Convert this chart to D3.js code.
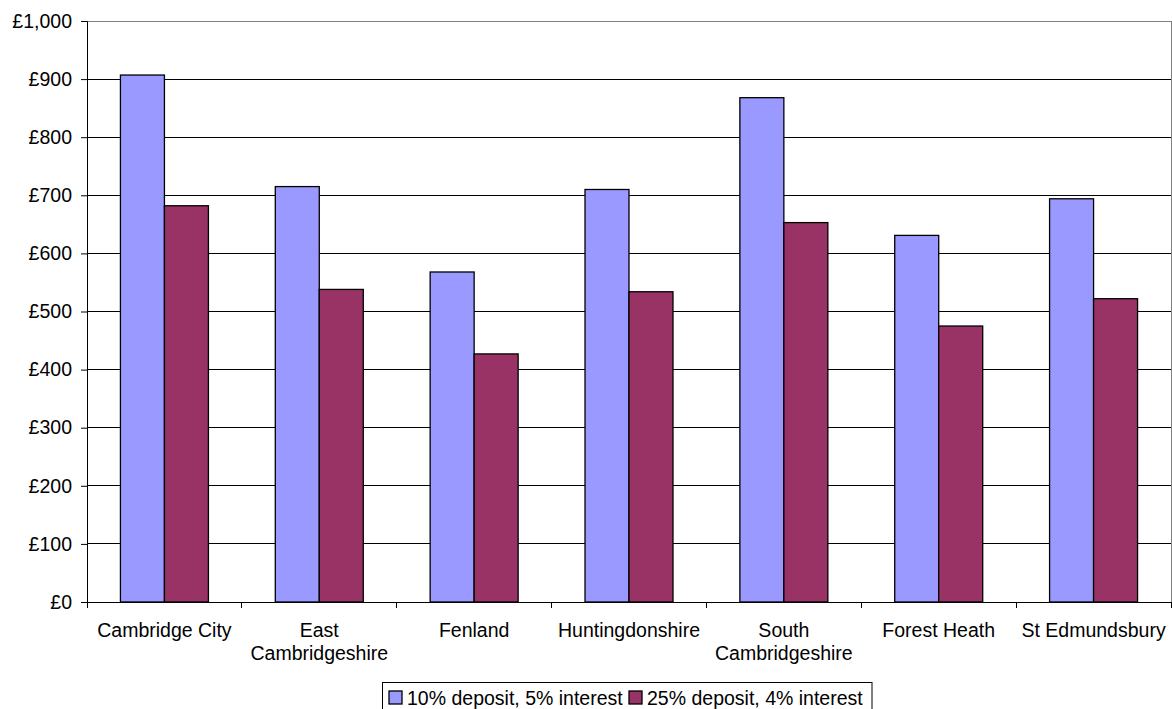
<!DOCTYPE html>
<html>
<head>
<meta charset="utf-8">
<script src="https://cdn.jsdelivr.net/npm/d3@7"></script>
<style>
  html, body { margin: 0; padding: 0; background: #fff; }
  svg { display: block; font-family: "Liberation Sans", Arial, sans-serif; }
</style>
</head>
<body>
<svg id="chart" width="1172" height="709"></svg>
<script>
// Monthly mortgage cost by district, two deposit/interest scenarios
const districts = [
  ["Cambridge City"],
  ["East", "Cambridgeshire"],
  ["Fenland"],
  ["Huntingdonshire"],
  ["South", "Cambridgeshire"],
  ["Forest Heath"],
  ["St Edmundsbury"]
];
const seriesNames = ["10% deposit, 5% interest", "25% deposit, 4% interest"];
const deposit10 = [907, 715, 568, 710, 868, 631, 694];
const deposit25 = [682, 538, 427, 534, 653, 475, 522];
const yTicks = [0, 100, 200, 300, 400, 500, 600, 700, 800, 900, 1000];
const colors = ["#9999ff", "#993366"];

const FONT = 19.5;
const svg = d3.select("#chart");
const plot = { left: 87, right: 1171, top: 21, bottom: 602 };

const keys = districts.map(d => d.join(" "));
const x = d3.scaleBand().domain(keys).range([plot.left, plot.right]).paddingInner(0).paddingOuter(0);
const y = d3.scaleLinear().domain([0, 1000]).range([plot.bottom, plot.top]);
const fmt = v => "£" + d3.format(",")(v);

// horizontal gridlines
svg.append("g")
  .selectAll("line")
  .data(yTicks.filter(t => t > 0 && t < 1000))
  .join("line")
  .attr("x1", plot.left).attr("x2", plot.right)
  .attr("y1", d => y(d)).attr("y2", d => y(d))
  .attr("stroke", "#000").attr("stroke-width", 1).attr("shape-rendering", "crispEdges");

// plot frame (top and right in grey)
svg.append("path")
  .attr("d", `M${plot.left},${plot.top}H${plot.right}V${plot.bottom}`)
  .attr("fill", "none").attr("stroke", "#808080").attr("stroke-width", 1)
  .attr("shape-rendering", "crispEdges");

// bars: two adjacent bars centred in each category slot
const inner = d3.scaleBand().domain([0, 1]).range([0, x.bandwidth()]).paddingOuter(0.76).paddingInner(0);
const series = [deposit10, deposit25];
series.forEach((vals, si) => {
  svg.append("g")
    .selectAll("rect")
    .data(vals)
    .join("rect")
    .attr("x", (d, i) => x(keys[i]) + inner(si))
    .attr("y", d => y(d))
    .attr("width", inner.bandwidth())
    .attr("height", d => y(0) - y(d))
    .attr("fill", colors[si])
    .attr("stroke", "#000").attr("stroke-width", 1.3);
});

// y axis
const yAxis = svg.append("g")
  .attr("transform", `translate(${plot.left},0)`)
  .call(d3.axisLeft(y).tickValues(yTicks).tickFormat(fmt).tickSize(6).tickPadding(9));
yAxis.select(".domain").attr("stroke", "#000");
yAxis.selectAll(".tick line").attr("stroke", "#000");
yAxis.selectAll("text").attr("font-size", FONT).attr("fill", "#000")
  .attr("font-family", "'Liberation Sans', Arial, sans-serif");

// x axis: ticks at category boundaries
const xAxisG = svg.append("g").attr("transform", `translate(0,${plot.bottom})`);
xAxisG.append("line")
  .attr("x1", plot.left).attr("x2", plot.right)
  .attr("stroke", "#000").attr("shape-rendering", "crispEdges");
const bounds = keys.map(k => x(k)).concat([plot.right]);
xAxisG.selectAll("line.tk")
  .data(bounds)
  .join("line").attr("class", "tk")
  .attr("x1", d => d).attr("x2", d => d)
  .attr("y1", 0).attr("y2", 6)
  .attr("stroke", "#000").attr("shape-rendering", "crispEdges");
const labels = xAxisG.selectAll("text.cat")
  .data(districts)
  .join("text").attr("class", "cat")
  .attr("text-anchor", "middle")
  .attr("font-size", FONT)
  .attr("fill", "#000")
  .attr("transform", (d, i) => `translate(${x(keys[i]) + x.bandwidth() / 2},0)`);
labels.selectAll("tspan")
  .data(d => d)
  .join("tspan")
  .attr("x", 0)
  .attr("y", (d, i) => 35 + i * 23)
  .text(d => d);

// legend
const legend = svg.append("g");
legend.append("rect")
  .attr("x", 382.5).attr("y", 682.5).attr("width", 489.5).attr("height", 40)
  .attr("fill", "#fff").attr("stroke", "#000").attr("stroke-width", 1);
const legendX = [389, 629];
seriesNames.forEach((name, i) => {
  legend.append("rect")
    .attr("x", legendX[i]).attr("y", 691).attr("width", 13).attr("height", 13)
    .attr("fill", colors[i]).attr("stroke", "#000").attr("stroke-width", 1.3);
  legend.append("text")
    .attr("x", legendX[i] + 18).attr("y", 704.5)
    .attr("font-size", FONT).attr("fill", "#000")
    .text(name);
});
</script>
</body>
</html>
